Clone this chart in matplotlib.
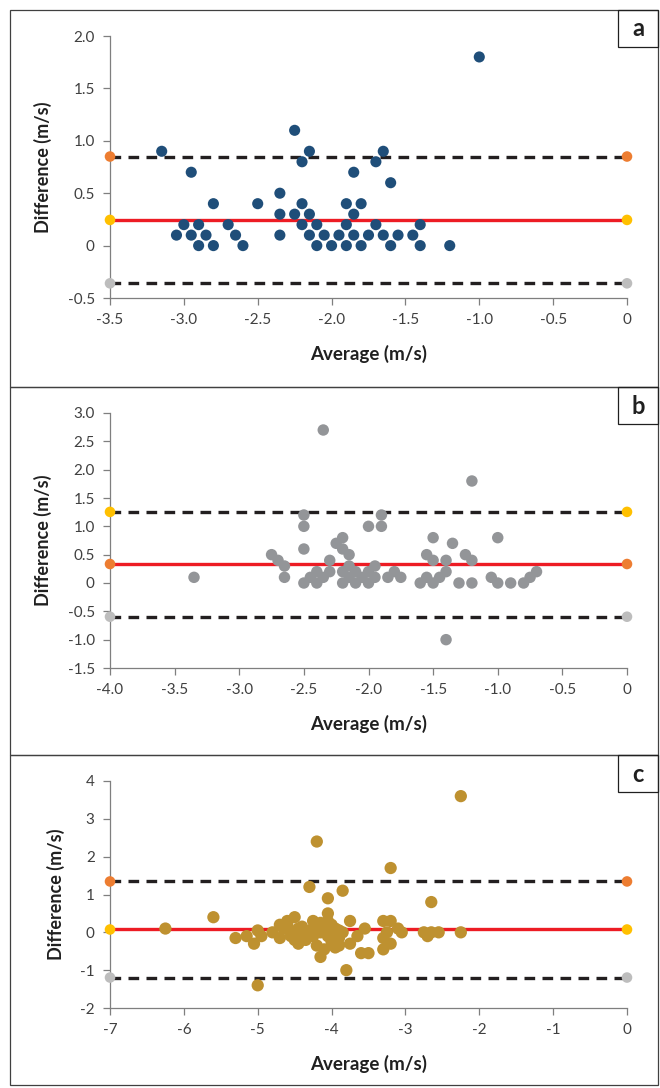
import matplotlib
matplotlib.use("Agg")
import matplotlib.pyplot as plt
from matplotlib.patches import Rectangle

plt.rcParams['font.family'] = ['Lato', 'DejaVu Sans']
plt.rcParams['axes.unicode_minus'] = False

# Panel a
a_x = [-1.0, -3.15, -2.95, -2.25, -2.15, -2.2, -1.65, -1.7, -1.85, -1.6,
       -2.35, -2.8, -2.5, -2.2, -1.9, -1.8, -2.35, -2.25, -2.15, -1.85,
       -3.0, -2.9, -2.7, -2.2, -2.1, -1.9, -1.7, -1.4,
       -3.05, -2.95, -2.85, -2.65, -2.35, -2.15, -2.05, -1.95, -1.85, -1.75, -1.65, -1.55, -1.45,
       -2.9, -2.8, -2.6, -2.1, -2.0, -1.9, -1.8, -1.6, -1.4, -1.2]
a_y = [1.8, 0.9, 0.7, 1.1, 0.9, 0.8, 0.9, 0.8, 0.7, 0.6,
       0.5, 0.4, 0.4, 0.4, 0.4, 0.4, 0.3, 0.3, 0.3, 0.3,
       0.2, 0.2, 0.2, 0.2, 0.2, 0.2, 0.2, 0.2,
       0.1, 0.1, 0.1, 0.1, 0.1, 0.1, 0.1, 0.1, 0.1, 0.1, 0.1, 0.1, 0.1,
       0, 0, 0, 0, 0, 0, 0, 0, 0, 0]
a_mean, a_upper, a_lower = 0.245, 0.85, -0.36

# Panel b
b_x = [-2.35, -1.2, -3.35, -2.5, -2.5, -2.5, -2.5, -1.9, -1.9, -2.0,
       -1.5, -1.0, -1.35, -2.2, -2.25, -2.2, -2.15, -2.75, -2.7, -2.65,
       -2.65, -2.3, -1.55, -1.5, -1.4, -1.25, -1.2, -1.95,
       -2.45, -2.4, -2.4, -2.35, -2.3, -2.2, -2.2, -2.15, -2.15, -2.1, -2.1,
       -2.05, -2.0, -2.0, -1.95, -1.85, -1.8, -1.75, -1.6, -1.55, -1.5,
       -1.45, -1.4, -1.3, -1.2, -1.05, -1.0, -0.9, -0.8, -0.75, -0.7, -1.4]
b_y = [2.7, 1.8, 0.1, 1.2, 1.0, 0.6, 0.0, 1.2, 1.0, 1.0,
       0.8, 0.8, 0.7, 0.8, 0.7, 0.6, 0.5, 0.5, 0.4, 0.3,
       0.1, 0.4, 0.5, 0.4, 0.4, 0.5, 0.4, 0.3,
       0.1, 0.2, 0.0, 0.1, 0.2, 0.2, 0.0, 0.3, 0.1, 0.2, 0.0,
       0.1, 0.2, 0.0, 0.1, 0.1, 0.2, 0.1, 0.0, 0.1, 0.0,
       0.1, 0.2, 0.0, 0.0, 0.1, 0.0, 0.0, 0.0, 0.1, 0.2, -1.0]
b_mean, b_upper, b_lower = 0.335, 1.255, -0.595

# Panel c
c_x = [-6.25, -5.6, -5.3, -5.15, -5.05, -5.0, -4.95, -5.0, -4.8, -4.7,
       -4.7, -4.6, -4.5, -4.45, -4.55, -4.5, -4.45, -4.35, -4.3, -4.25,
       -4.25, -4.2, -4.2, -4.15, -4.05, -4.05, -4.05, -4.05, -4.05, -4.0,
       -3.95, -3.9, -3.9, -3.85, -3.85, -3.8, -3.75, -3.75, -3.65, -3.6,
       -3.55, -3.5, -3.3, -3.3, -3.3, -3.25, -3.2, -3.2, -3.2, -3.1,
       -3.05, -2.75, -2.65, -2.7, -2.55, -2.65, -2.25, -2.25,
       -4.65, -4.4, -4.3, -4.15, -4.0, -3.95, -4.1,
       -4.6, -4.4, -4.35, -4.25, -4.1, -3.95, -3.9, -4.55, -4.15]
c_y = [0.1, 0.4, -0.15, -0.1, -0.3, 0.05, -0.1, -1.4, 0.0, 0.2,
       -0.15, 0.3, 0.4, 0.1, 0.0, -0.2, -0.3, -0.2, 1.2, 0.3,
       0.1, -0.35, 2.4, -0.65, 0.9, 0.5, 0.3, 0.1, -0.1, -0.25,
       -0.4, -0.35, 0.05, 1.1, 0.0, -1.0, 0.3, -0.3, -0.1, -0.55,
       0.1, -0.55, -0.15, 0.3, -0.45, 0.0, 0.3, -0.3, 1.7, 0.1,
       0.0, 0.0, 0.0, -0.1, 0.0, 0.8, 0.0, 3.6,
       0.1, 0.0, -0.1, 0.0, 0.2, -0.2, -0.45,
       0.2, 0.15, -0.05, -0.1, 0.15, 0.1, -0.15, -0.1, 0.25]
c_mean, c_upper, c_lower = 0.075, 1.345, -1.195

ORANGE = '#ED7D31'
YELLOW = '#FFC000'
LGRAY = '#BDBDBD'
TICKC = '#404040'
SPINE = '#7F7F7F'

panels = [
    dict(x=a_x, y=a_y, mean=a_mean, up=a_upper, lo=a_lower, color='#1F4E79', s=64,
         xlim=(-3.5, 0), xt=[-3.5, -3.0, -2.5, -2.0, -1.5, -1.0, -0.5, 0],
         xl=['-3.5', '-3.0', '-2.5', '-2.0', '-1.5', '-1.0', '-0.5', '0'],
         ylim=(-0.5, 2.0), yt=[-0.5, 0, 0.5, 1.0, 1.5, 2.0],
         yl=['-0.5', '0', '0.5', '1.0', '1.5', '2.0'],
         ends=(ORANGE, YELLOW, LGRAY), letter='a',
         rect=[110 / 660, 1 - 298 / 1088, 517 / 660, 262 / 1088],
         box=(10, 387)),
    dict(x=b_x, y=b_y, mean=b_mean, up=b_upper, lo=b_lower, color='#939598', s=68,
         xlim=(-4.0, 0), xt=[-4.0, -3.5, -3.0, -2.5, -2.0, -1.5, -1.0, -0.5, 0],
         xl=['-4.0', '-3.5', '-3.0', '-2.5', '-2.0', '-1.5', '-1.0', '-0.5', '0'],
         ylim=(-1.5, 3.0), yt=[-1.5, -1.0, -0.5, 0, 0.5, 1.0, 1.5, 2.0, 2.5, 3.0],
         yl=['-1.5', '-1.0', '-0.5', '0', '0.5', '1.0', '1.5', '2.0', '2.5', '3.0'],
         ends=(YELLOW, ORANGE, LGRAY), letter='b',
         rect=[110 / 660, 1 - 668 / 1088, 517 / 660, 255 / 1088],
         box=(387, 755)),
    dict(x=c_x, y=c_y, mean=c_mean, up=c_upper, lo=c_lower, color='#BE9130', s=78,
         xlim=(-7, 0), xt=[-7, -6, -5, -4, -3, -2, -1, 0],
         xl=['-7', '-6', '-5', '-4', '-3', '-2', '-1', '0'],
         ylim=(-2, 4), yt=[-2, -1, 0, 1, 2, 3, 4],
         yl=['-2', '-1', '0', '1', '2', '3', '4'],
         ends=(ORANGE, YELLOW, LGRAY), letter='c',
         rect=[110 / 660, 1 - 1008 / 1088, 517 / 660, 227 / 1088],
         box=(755, 1085)),
]

fig = plt.figure(figsize=(6.6, 10.88), dpi=100)

for p in panels:
    # outer panel box
    top, bot = p['box']
    fig.patches.append(Rectangle((10 / 660, 1 - bot / 1088), 648 / 660, (bot - top) / 1088,
                                 transform=fig.transFigure, fill=False,
                                 edgecolor='#404040', linewidth=0.9))
    # letter box
    fig.patches.append(Rectangle((618 / 660, 1 - (top + 37) / 1088), 40 / 660, 37 / 1088,
                                 transform=fig.transFigure, fill=False,
                                 edgecolor='#202020', linewidth=0.9))
    fig.text(638 / 660, 1 - (top + 19) / 1088, p['letter'], ha='center', va='center',
             fontsize=17, fontweight='bold', color='#202020')

    ax = fig.add_axes(p['rect'])
    x0, x1 = p['xlim']
    ax.plot([x0, x1], [p['up'], p['up']], color='#231F20', lw=2.4,
            dashes=(3.2, 2.2), zorder=2)
    ax.plot([x0, x1], [p['lo'], p['lo']], color='#231F20', lw=2.4,
            dashes=(3.2, 2.2), zorder=2)
    ax.plot([x0, x1], [p['mean'], p['mean']], color='#ED1C24', lw=2.4, zorder=2)
    ax.scatter(p['x'], p['y'], s=p['s'], color=p['color'], edgecolors='none', zorder=3)
    cu, cm, cl = p['ends']
    for xe in (x0, x1):
        ax.scatter([xe], [p['up']], s=58, color=cu, edgecolors='none', zorder=4, clip_on=False)
        ax.scatter([xe], [p['mean']], s=58, color=cm, edgecolors='none', zorder=4, clip_on=False)
        ax.scatter([xe], [p['lo']], s=58, color=cl, edgecolors='none', zorder=4, clip_on=False)

    ax.set_xlim(p['xlim'])
    ax.set_ylim(p['ylim'])
    ax.set_xticks(p['xt'])
    ax.set_xticklabels(p['xl'])
    ax.set_yticks(p['yt'])
    ax.set_yticklabels(p['yl'])
    for s in ('top', 'right'):
        ax.spines[s].set_visible(False)
    for s in ('left', 'bottom'):
        ax.spines[s].set_color(SPINE)
        ax.spines[s].set_linewidth(0.9)
    ax.tick_params(direction='out', length=5, width=0.9, color=SPINE,
                   labelsize=11, labelcolor=TICKC, pad=6)
    ax.set_xlabel('Average (m/s)', fontsize=13.5, fontweight='bold', color='#202020', labelpad=13)
    ax.set_ylabel('Difference (m/s)', fontsize=13, fontweight='bold', color='#202020', labelpad=11)

fig.savefig('out.png', dpi=100)
